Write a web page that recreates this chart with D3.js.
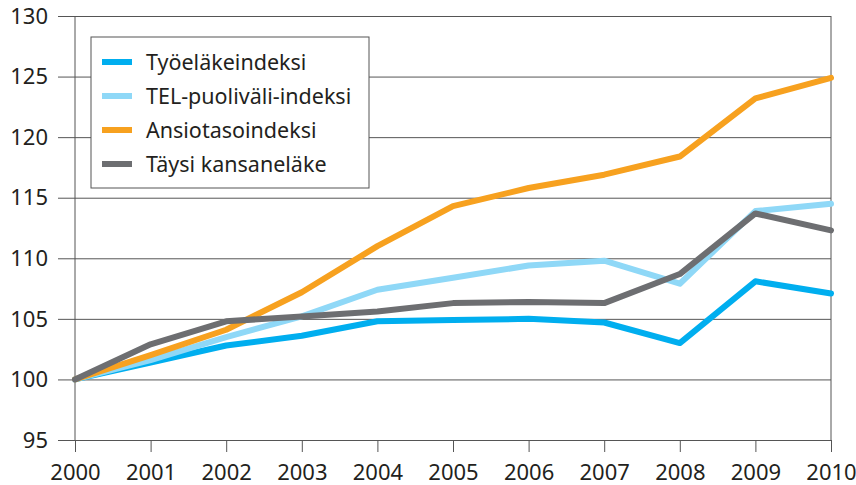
<!DOCTYPE html>
<html>
<head>
<meta charset="utf-8">
<script src="https://d3js.org/d3.v7.min.js"></script>
<style>
  body { margin: 0; background: #fff; }
  text { font-family: "Noto Sans", sans-serif; fill: #231f20; }
</style>
</head>
<body>
<div class="chart"></div>
<script>
var width = 856;
var height = 485;

var margin = { "top": 16, "bottom": 45, "left": 75, "right": 25 };

// data
var years = [2000, 2001, 2002, 2003, 2004, 2005, 2006, 2007, 2008, 2009, 2010];
var tyoelake = [100, 101.4, 102.8, 103.6, 104.8, 104.9, 105.0, 104.7, 103.0, 108.1, 107.1];
var telPuolivali = [100, 101.6, 103.5, 105.2, 107.4, 108.4, 109.4, 109.8, 107.9, 113.9, 114.5];
var ansiotaso = [100, 102.0, 104.1, 107.2, 111.0, 114.3, 115.8, 116.9, 118.4, 123.2, 124.9];
var kansanelake = [100, 102.9, 104.8, 105.2, 105.6, 106.3, 106.4, 106.3, 108.7, 113.7, 112.3];
var yTicks = [95, 100, 105, 110, 115, 120, 125, 130];

var series = [
  { name: "Työeläkeindeksi", values: tyoelake, color: "#00aeef" },
  { name: "TEL-puoliväli-indeksi", values: telPuolivali, color: "#8fd8f7" },
  { name: "Ansiotasoindeksi", values: ansiotaso, color: "#f7a11f" },
  { name: "Täysi kansaneläke", values: kansanelake, color: "#6d6e71" }
];

var innerW = width - margin.left - margin.right;
var innerH = height - margin.top - margin.bottom;

var svg = d3.select(".chart")
            .append("svg")
            .attr("width", width)
            .attr("height", height)
            .append("g")
            .attr("transform", "translate(" + margin.left + "," + margin.top + ")");

var scaleX = d3.scaleLinear().domain([2000, 2010]).range([0, innerW]);
var scaleY = d3.scaleLinear().domain([95, 130]).range([innerH, 0]);

// horizontal grid + y labels
var yAxis = d3.axisLeft(scaleY)
              .tickValues(yTicks)
              .tickSizeInner(-innerW)
              .tickSizeOuter(0)
              .tickPadding(10);

var gy = svg.append("g").call(yAxis);
gy.select(".domain").remove();
gy.selectAll("line").attr("x1", -17).attr("stroke", "#555").attr("stroke-width", 1);
gy.selectAll("text").attr("x", -27).attr("font-size", 22).attr("dy", "0.33em");

// x ticks at bottom
var xAxis = d3.axisBottom(scaleX)
              .tickValues(years)
              .tickFormat(d3.format("d"))
              .tickSizeInner(12)
              .tickSizeOuter(0)
              .tickPadding(12);

var gx = svg.append("g")
            .attr("transform", "translate(0," + innerH + ")")
            .call(xAxis);
gx.select(".domain").remove();
gx.selectAll("line").attr("stroke", "#555");
gx.selectAll("text").attr("font-size", 22);

// frame verticals
svg.append("line")
   .attr("x1", 0).attr("x2", 0)
   .attr("y1", 0).attr("y2", innerH)
   .attr("stroke", "#555");
svg.append("line")
   .attr("x1", innerW).attr("x2", innerW)
   .attr("y1", 0).attr("y2", innerH)
   .attr("stroke", "#555");

var line = d3.line()
             .x(function(d, i) { return scaleX(years[i]); })
             .y(function(d) { return scaleY(d); });

svg.selectAll(".series")
   .data(series)
   .enter()
   .append("path")
   .attr("class", "series")
   .attr("d", function(d) { return line(d.values); })
   .attr("fill", "none")
   .attr("stroke", function(d) { return d.color; })
   .attr("stroke-width", 6)
   .attr("stroke-linejoin", "round")
   .attr("stroke-linecap", "round");

// legend
var legend = svg.append("g").attr("transform", "translate(16,21)");

legend.append("rect")
      .attr("width", 278)
      .attr("height", 151)
      .attr("fill", "#fff")
      .attr("stroke", "#555");

var items = legend.selectAll(".item")
                  .data(series)
                  .enter()
                  .append("g")
                  .attr("transform", function(d, i) { return "translate(0," + (25 + i * 34) + ")"; });

items.append("line")
     .attr("x1", 11).attr("x2", 41)
     .attr("stroke", function(d) { return d.color; })
     .attr("stroke-width", 6);

items.append("text")
     .attr("x", 55)
     .attr("dy", "0.35em")
     .attr("font-size", 21.5)
     .text(function(d) { return d.name; });
</script>
</body>
</html>
